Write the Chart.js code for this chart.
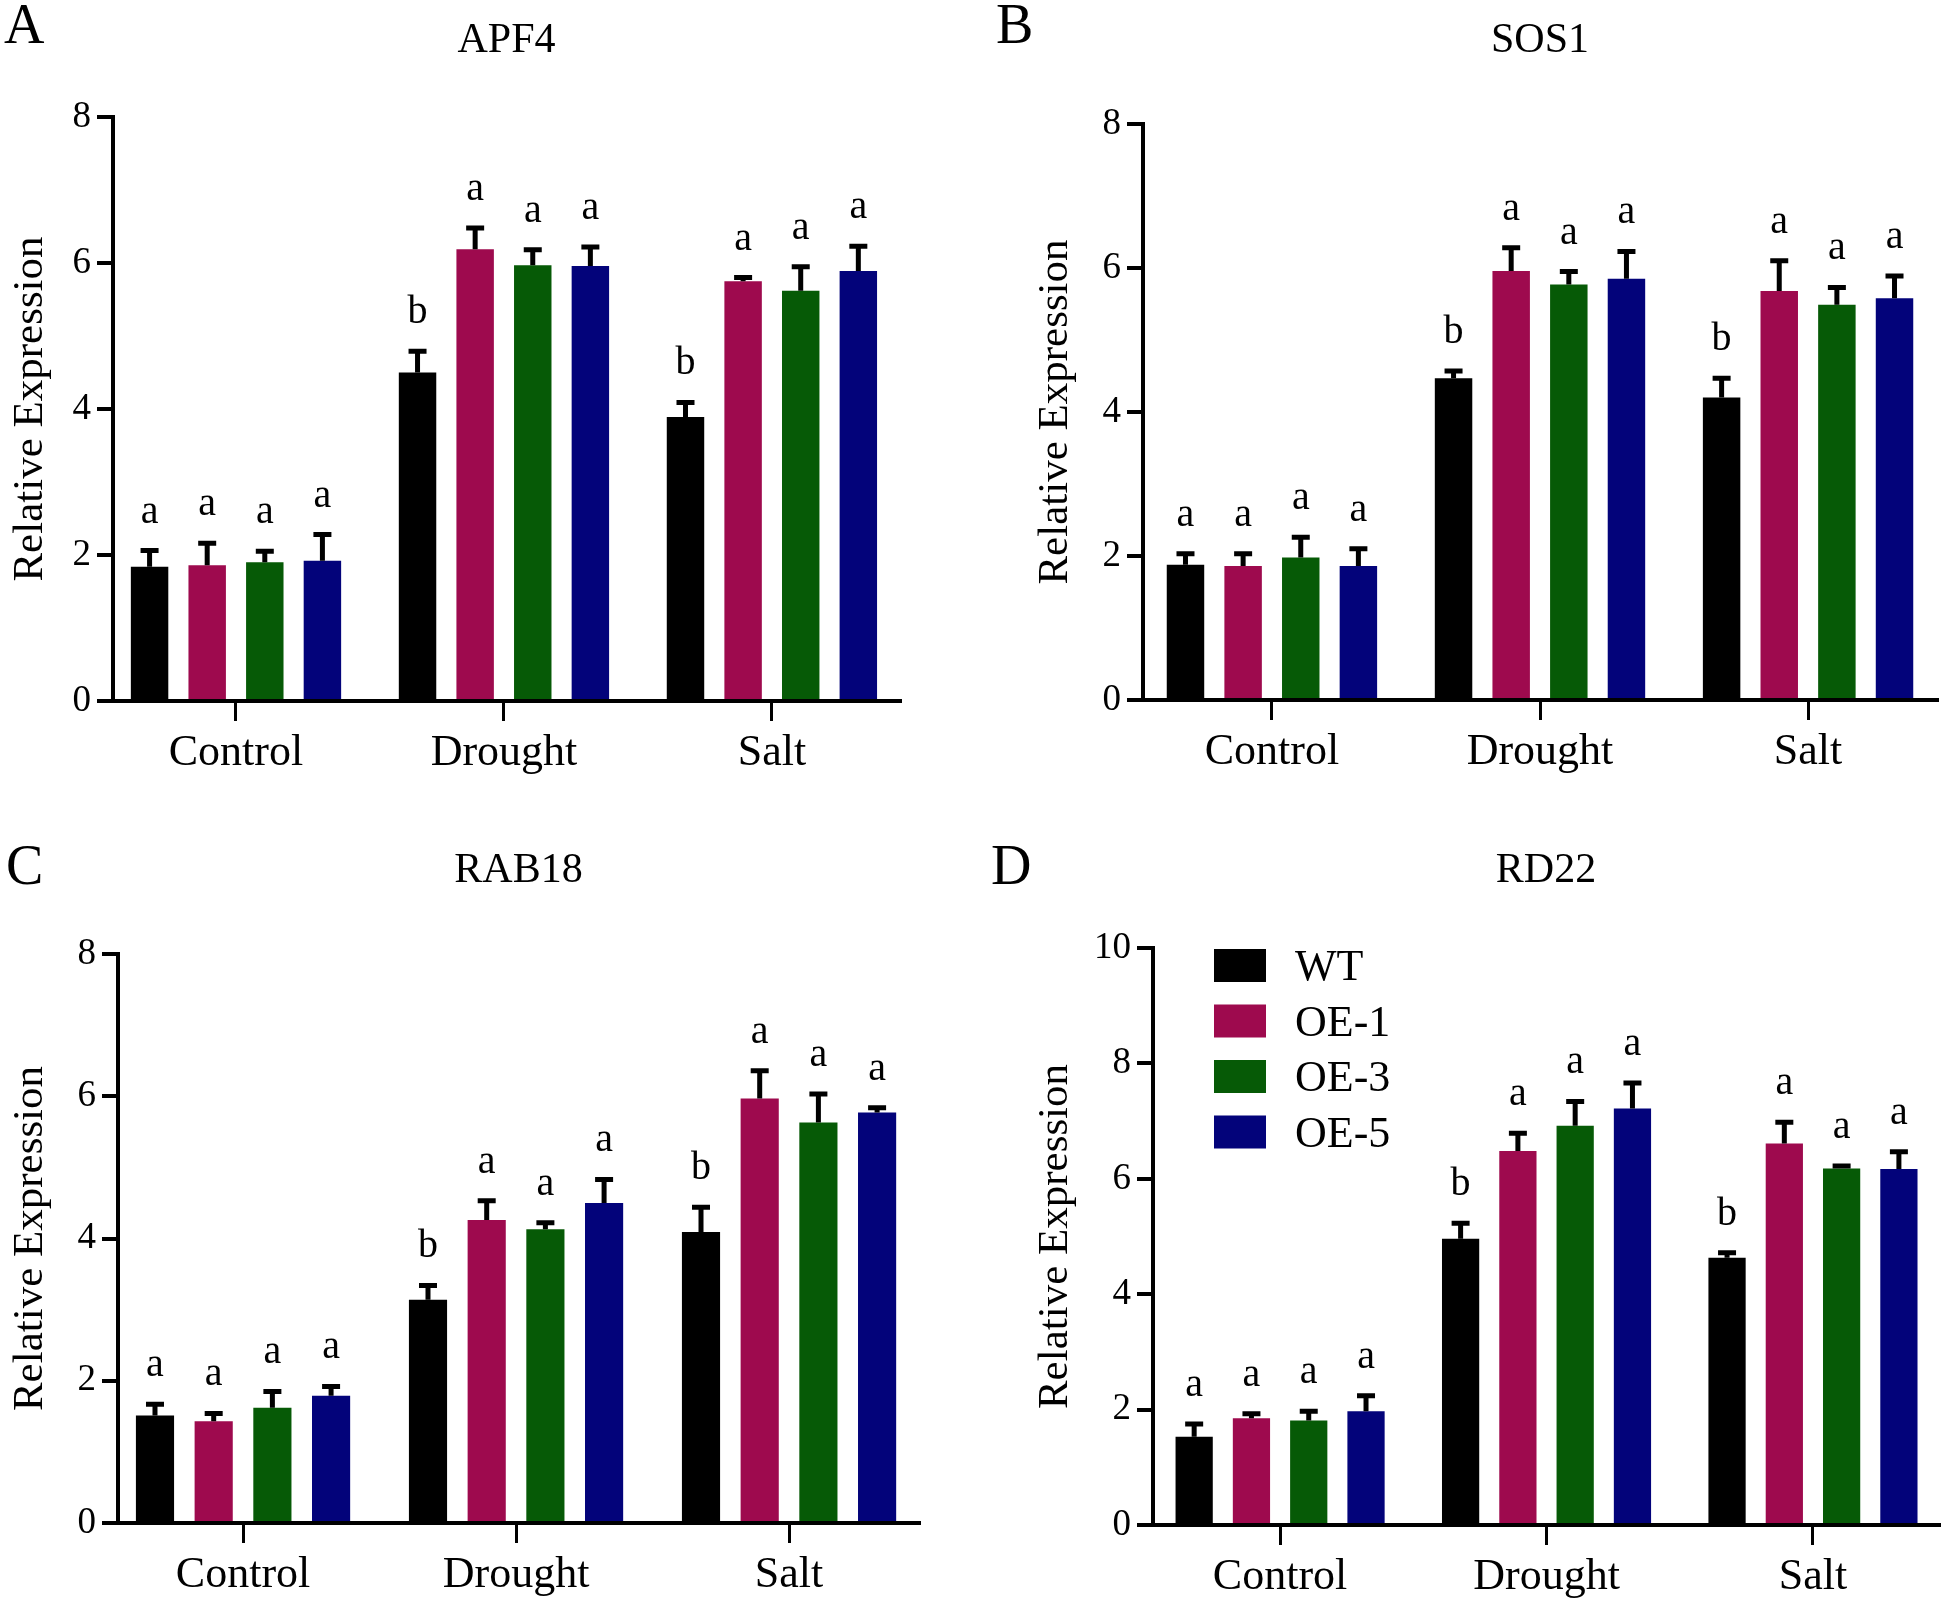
<!DOCTYPE html>
<html>
<head>
<meta charset="utf-8">
<script src="https://cdn.jsdelivr.net/npm/chart.js@4.4.0/dist/chart.umd.min.js"></script>
<style>
body { margin: 0; background: #fff; }
#wrap { position: relative; width: 1944px; height: 1607px; }
canvas { position: absolute; }
</style>
</head>
<body>
<div id="wrap">
<canvas id="chartA" width="972" height="800" style="left:0;top:0"></canvas>
<canvas id="chartB" width="972" height="800" style="left:972px;top:0"></canvas>
<canvas id="chartC" width="972" height="807" style="left:0;top:800px"></canvas>
<canvas id="chartD" width="972" height="807" style="left:972px;top:800px"></canvas>
</div>
<script>
const groups = ['Control', 'Drought', 'Salt'];
const lines = ['WT', 'OE-1', 'OE-3', 'OE-5'];
const colors = ['#000000', '#9e0a4e', '#065a06', '#03037a'];

// one row per line (WT, OE-1, OE-3, OE-5), one value per group
const apf4Mean = [[1.84, 4.50, 3.89], [1.86, 6.19, 5.75], [1.90, 5.97, 5.62], [1.92, 5.96, 5.89]];
const apf4Err  = [[0.22, 0.29, 0.20], [0.30, 0.29, 0.05], [0.15, 0.21, 0.33], [0.36, 0.26, 0.34]];
const sos1Mean = [[1.88, 4.47, 4.20], [1.86, 5.96, 5.68], [1.98, 5.77, 5.49], [1.86, 5.85, 5.58]];
const sos1Err  = [[0.15, 0.10, 0.27], [0.17, 0.32, 0.42], [0.28, 0.18, 0.24], [0.24, 0.38, 0.31]];
const rab18Mean = [[1.51, 3.14, 4.09], [1.43, 4.26, 5.97], [1.62, 4.13, 5.63], [1.79, 4.50, 5.77]];
const rab18Err  = [[0.16, 0.20, 0.35], [0.11, 0.27, 0.39], [0.23, 0.09, 0.40], [0.13, 0.33, 0.07]];
const rd22Mean = [[1.53, 4.96, 4.63], [1.85, 6.48, 6.61], [1.81, 6.92, 6.18], [1.97, 7.22, 6.17]];
const rd22Err  = [[0.22, 0.27, 0.09], [0.08, 0.31, 0.37], [0.16, 0.42, 0.04], [0.27, 0.44, 0.30]];
// significance letters, same for all four genes
const sigLetters = [['a', 'b', 'b'], ['a', 'a', 'a'], ['a', 'a', 'a'], ['a', 'a', 'a']];

const yTicks4 = [0, 2, 4, 6, 8];
const yTicks5 = [0, 2, 4, 6, 8, 10];

const serif = '"Liberation Serif", "Times New Roman", serif';
Chart.defaults.font.family = serif;
Chart.defaults.color = '#000';

const panelPlugin = {
    id: 'panelExtras',
    afterDatasetsDraw(chart) {
        const ctx = chart.ctx;
        const y = chart.scales.y;
        const p = chart.options.plugins.panelExtras;
        ctx.save();
        // error bars (upper half only) and letters
        chart.data.datasets.forEach((ds, i) => {
            const meta = chart.getDatasetMeta(i);
            meta.data.forEach((bar, j) => {
                const top = y.getPixelForValue(ds.data[j].y + ds.errs[j]);
                ctx.strokeStyle = '#000';
                ctx.lineWidth = 5;
                ctx.beginPath();
                ctx.moveTo(bar.x, bar.y);
                ctx.lineTo(bar.x, top);
                ctx.moveTo(bar.x - 9, top);
                ctx.lineTo(bar.x + 9, top);
                ctx.stroke();
                ctx.fillStyle = '#000';
                ctx.font = '40px ' + serif;
                ctx.textAlign = 'center';
                ctx.textBaseline = 'alphabetic';
                ctx.fillText(ds.sig[j], bar.x, top - 28);
            });
        });
        const area = chart.chartArea;
        ctx.font = '56px ' + serif;
        ctx.textAlign = 'left';
        ctx.fillText(p.letter, p.letterX, p.letterY);
        ctx.font = '42px ' + serif;
        ctx.textAlign = 'center';
        ctx.fillText(p.title, (area.left + area.right) / 2, p.titleY);
        ctx.save();
        ctx.translate(p.yTitleX, (area.top + area.bottom) / 2);
        ctx.rotate(-Math.PI / 2);
        ctx.font = '43px ' + serif;
        ctx.textBaseline = 'middle';
        ctx.fillText('Relative Expression', 0, 0);
        ctx.restore();
        if (p.legend) {
            ctx.font = '44px ' + serif;
            ctx.textAlign = 'left';
            chart.data.datasets.forEach((ds, i) => {
                const by = 149 + i * 55.5;
                ctx.fillStyle = ds.backgroundColor;
                ctx.fillRect(242, by, 52, 33);
                ctx.fillStyle = '#000';
                ctx.fillText(ds.label, 323, by + 31);
            });
        }
        ctx.restore();
    }
};

function makePanel(id, means, errs, yTicks, box, extras) {
    const canvas = document.getElementById(id);
    const W = canvas.width, H = canvas.height;
    const datasets = lines.map((name, i) => ({
        label: name,
        data: means[i].map((v, j) => ({ x: j, y: v })),
        errs: errs[i],
        sig: sigLetters[i],
        backgroundColor: colors[i],
        borderWidth: 0,
        categoryPercentage: 0.86,
        barPercentage: 0.65
    }));
    return new Chart(canvas.getContext('2d'), {
        type: 'bar',
        data: { datasets: datasets },
        options: {
            responsive: false,
            devicePixelRatio: 1,
            animation: false,
            layout: { padding: { left: 0, top: box.top, right: W - box.right, bottom: 0 } },
            plugins: {
                legend: { display: false },
                tooltip: { enabled: false },
                panelExtras: extras
            },
            scales: {
                x: {
                    type: 'linear',
                    offset: false,
                    min: box.xMin,
                    max: box.xMax,
                    afterBuildTicks(s) { s.ticks = groups.map((g, i) => ({ value: i })); },
                    grid: { display: true, offset: false, drawOnChartArea: false, tickLength: 20, lineWidth: 3, color: '#000' },
                    border: { display: true, width: 4, color: '#000' },
                    ticks: {
                        font: { size: 44 }, color: '#000', padding: 6, maxRotation: 0, autoSkip: false,
                        callback: (v, i) => groups[i]
                    },
                    afterFit(s) { s.height = H - box.bottom; }
                },
                y: {
                    min: 0,
                    max: yTicks[yTicks.length - 1],
                    afterBuildTicks(s) { s.ticks = yTicks.map(v => ({ value: v })); },
                    grid: { display: true, drawOnChartArea: false, tickLength: 16, lineWidth: 4, color: '#000' },
                    border: { display: true, width: 4, color: '#000' },
                    ticks: { font: { size: 37 }, color: '#000', padding: 6 },
                    afterFit(s) { s.width = box.left; }
                }
            }
        },
        plugins: [panelPlugin]
    });
}

makePanel('chartA', apf4Mean, apf4Err, yTicks4,
    { left: 113, right: 900, top: 117, bottom: 701, xMin: -0.459, xMax: 2.478 },
    { letter: 'A', letterX: 4, letterY: 43, title: 'APF4', titleY: 52, yTitleX: 31, legend: false });
makePanel('chartB', sos1Mean, sos1Err, yTicks4,
    { left: 171, right: 965, top: 124, bottom: 700, xMin: -0.481, xMax: 2.481 },
    { letter: 'B', letterX: 24, letterY: 43, title: 'SOS1', titleY: 52, yTitleX: 84, legend: false });
makePanel('chartC', rab18Mean, rab18Err, yTicks4,
    { left: 118, right: 919, top: 154, bottom: 723, xMin: -0.458, xMax: 2.476 },
    { letter: 'C', letterX: 6, letterY: 84, title: 'RAB18', titleY: 82, yTitleX: 31, legend: false });
makePanel('chartD', rd22Mean, rd22Err, yTicks5,
    { left: 181, right: 967, top: 148, bottom: 725, xMin: -0.477, xMax: 2.473 },
    { letter: 'D', letterX: 19, letterY: 84, title: 'RD22', titleY: 82, yTitleX: 84, legend: true });
</script>
</body>
</html>
